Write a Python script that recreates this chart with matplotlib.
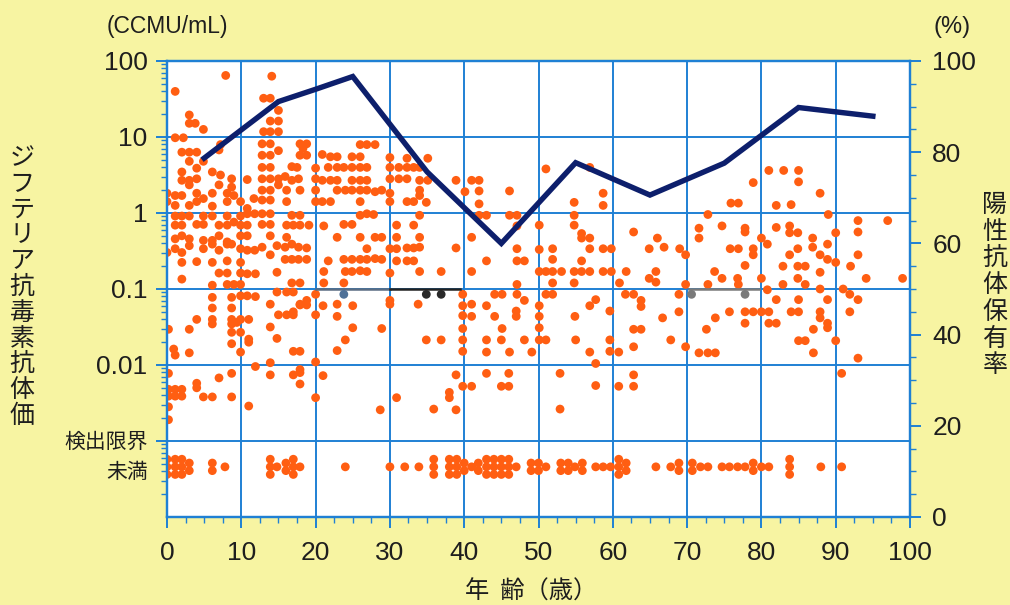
import numpy as np
import matplotlib
matplotlib.use("Agg")
import matplotlib.pyplot as plt
from matplotlib.ticker import LogLocator, MultipleLocator, NullFormatter

plt.rcParams['font.family'] = ['Liberation Sans', 'Noto Sans CJK JP', 'DejaVu Sans']
JP = ['Noto Sans CJK JP', 'DejaVu Sans']

# antibody titer per sample: (age, log10 titer in CCMU/mL)
titer_points = [
    # 0-33 years, upper range
    (7.9, 1.81), (14.1, 1.80), (1.1, 1.60), (13.0, 1.51), (13.9, 1.51), (15.0, 1.35),
    (3.0, 1.29), (3.0, 1.18), (3.8, 1.18), (4.9, 1.10), (13.9, 1.21), (15.0, 1.21),
    (13.0, 1.07), (13.9, 1.07), (15.0, 1.07), (1.1, 0.99), (2.2, 0.99), (7.2, 0.90),
    (7.0, 0.83), (12.8, 0.91), (13.9, 0.91), (17.9, 0.91), (18.8, 0.91), (18.3, 0.85),
    (26.0, 0.90), (26.9, 0.90), (28.0, 0.90),
    (2.0, 0.80), (3.0, 0.80), (4.0, 0.80), (12.8, 0.76), (13.9, 0.76), (15.0, 0.82),
    (17.9, 0.76), (18.8, 0.76), (20.9, 0.77), (22.0, 0.74), (22.9, 0.74), (24.9, 0.74),
    (26.0, 0.74), (30.0, 0.73), (32.3, 0.72), (3.0, 0.68), (4.9, 0.68),
    (4.0, 0.59), (12.8, 0.60), (13.9, 0.60), (16.8, 0.61), (17.5, 0.60), (20.0, 0.59),
    (21.7, 0.60), (22.9, 0.60), (23.8, 0.60), (24.9, 0.60), (26.0, 0.60), (26.9, 0.60),
    (30.0, 0.60), (31.2, 0.60), (32.3, 0.60), (33.2, 0.60),
    (2.0, 0.54), (6.1, 0.54), (7.2, 0.50), (8.7, 0.45),
    (2.0, 0.43), (3.0, 0.43), (4.0, 0.45), (10.8, 0.44), (12.8, 0.45), (13.9, 0.45),
    (15.0, 0.45), (15.9, 0.48), (16.8, 0.43), (17.7, 0.45), (20.0, 0.45), (20.9, 0.43),
    (22.0, 0.43), (22.9, 0.43), (24.9, 0.43), (26.0, 0.43), (26.9, 0.43), (30.0, 0.45),
    (31.2, 0.45), (32.3, 0.45),
    (3.0, 0.37), (7.0, 0.37), (8.7, 0.34), (15.0, 0.37),
    (0.0, 0.26), (1.1, 0.23), (2.0, 0.23), (4.0, 0.26), (6.1, 0.26), (8.1, 0.26),
    (9.0, 0.23), (12.8, 0.30), (13.9, 0.30), (16.1, 0.30), (17.9, 0.30), (20.0, 0.30),
    (22.9, 0.30), (24.0, 0.30), (24.9, 0.30), (26.0, 0.30), (26.9, 0.30), (28.0, 0.28),
    (28.9, 0.30), (30.0, 0.26),
    (0.0, 0.15), (1.1, 0.10), (3.0, 0.10), (4.0, 0.15), (4.9, 0.19), (6.1, 0.09),
    (8.1, 0.15), (9.9, 0.15), (11.7, 0.19), (12.8, 0.17), (13.9, 0.17), (16.1, 0.15),
    (20.0, 0.15), (20.9, 0.15), (22.0, 0.15), (26.0, 0.15), (30.0, 0.15), (32.3, 0.15),
    (33.2, 0.15), (10.8, 0.06),
    (1.1, -0.04), (2.0, -0.04), (3.0, -0.04), (4.9, -0.04), (6.1, -0.04), (8.1, -0.04),
    (9.9, -0.04), (10.8, -0.01), (11.8, -0.01), (12.8, -0.01), (13.9, -0.01), (16.8, -0.03),
    (17.9, -0.03), (26.0, -0.03), (26.9, -0.01), (27.8, -0.02),
    (1.1, -0.16), (2.0, -0.16), (4.0, -0.15), (4.9, -0.15), (7.0, -0.16), (8.1, -0.16),
    (9.0, -0.12), (9.9, -0.16), (10.8, -0.16), (12.8, -0.15), (13.9, -0.15), (16.1, -0.16),
    (17.0, -0.16), (17.9, -0.16), (19.1, -0.16), (21.1, -0.17), (23.8, -0.15), (24.9, -0.15),
    (30.9, -0.16), (33.2, -0.16),
    (1.1, -0.34), (2.0, -0.30), (3.0, -0.34), (4.9, -0.36), (6.1, -0.36), (7.0, -0.30),
    (8.1, -0.38), (9.9, -0.30), (10.8, -0.30), (13.9, -0.30), (16.1, -0.32), (22.9, -0.32),
    (26.0, -0.32), (28.0, -0.32), (28.9, -0.32), (30.9, -0.32),
    (0.0, -0.52), (1.1, -0.47), (2.0, -0.52), (3.0, -0.43), (4.9, -0.47), (6.1, -0.41),
    (7.0, -0.49), (8.1, -0.41), (8.7, -0.41), (9.9, -0.47), (10.8, -0.49), (11.8, -0.49),
    (12.8, -0.45), (13.9, -0.55), (14.8, -0.43), (15.9, -0.45), (16.8, -0.41), (17.7, -0.45),
    (18.8, -0.46), (26.9, -0.47), (30.0, -0.47), (30.9, -0.47), (32.3, -0.46), (33.2, -0.46),
    (2.0, -0.65), (4.0, -0.64), (6.1, -0.65), (8.1, -0.63), (9.9, -0.65), (15.9, -0.61),
    (16.8, -0.61), (17.7, -0.61), (18.8, -0.61), (21.7, -0.63), (23.8, -0.61), (24.9, -0.61),
    (26.0, -0.61), (26.9, -0.61), (28.0, -0.60), (28.9, -0.61), (30.9, -0.63), (32.3, -0.63),
    (33.2, -0.63),
    (7.0, -0.79), (8.1, -0.79), (9.9, -0.79), (10.8, -0.80), (11.9, -0.80), (14.8, -0.78),
    (21.1, -0.77), (24.0, -0.77), (24.9, -0.77), (26.0, -0.76), (26.9, -0.77), (30.0, -0.79),
    (2.0, -0.87), (6.1, -0.95), (8.1, -0.94), (9.0, -0.94), (9.9, -0.94), (16.8, -0.92),
    (17.9, -0.92), (21.1, -0.92), (23.8, -0.92),
    # 0-33 years, lower range
    (9.9, -1.09), (10.8, -1.09), (11.9, -1.10), (14.8, -1.04), (16.1, -1.04), (17.0, -1.04),
    (20.0, -1.07), (6.1, -1.11), (8.7, -1.11), (17.9, -1.20), (18.8, -1.15), (30.0, -1.15),
    (13.9, -1.20), (17.9, -1.21), (18.8, -1.21), (21.0, -1.22), (22.9, -1.20), (25.0, -1.22),
    (30.0, -1.20), (6.1, -1.25), (8.7, -1.25),
    (15.0, -1.34), (16.1, -1.34), (17.0, -1.34), (17.0, -1.30), (20.0, -1.34), (22.9, -1.36),
    (4.0, -1.40), (6.1, -1.40), (6.1, -1.46), (8.7, -1.40), (8.7, -1.46), (9.9, -1.40),
    (11.0, -1.40), (9.4, -1.44), (0.2, -1.53), (3.0, -1.53), (13.9, -1.50), (25.0, -1.51),
    (28.9, -1.52), (8.7, -1.57), (9.9, -1.57), (14.8, -1.65), (11.0, -1.66), (11.0, -1.70),
    (24.0, -1.67), (8.7, -1.72),
    (0.9, -1.79), (1.1, -1.87), (3.0, -1.84), (9.9, -1.83), (17.0, -1.82), (17.9, -1.82),
    (22.9, -1.81), (11.9, -2.02), (13.9, -1.97), (20.0, -1.96),
    (0.2, -2.11), (8.7, -2.11), (13.9, -2.13), (17.0, -2.13), (17.9, -2.10), (17.9, -2.06),
    (21.0, -2.14), (7.0, -2.17), (4.0, -2.24), (17.9, -2.25),
    (0.2, -2.32), (1.1, -2.32), (2.0, -2.32), (4.0, -2.30), (0.2, -2.41), (1.1, -2.41),
    (2.0, -2.41), (4.9, -2.42), (6.1, -2.42), (8.7, -2.42), (20.0, -2.43), (30.9, -2.43),
    (0.2, -2.55), (11.0, -2.54), (28.7, -2.59), (0.2, -2.72),
    # 34-66 years, upper range
    (35.1, 0.72), (34.0, 0.60), (34.0, 0.43), (35.1, 0.43), (38.9, 0.43), (41.0, 0.43),
    (42.0, 0.43), (34.0, 0.30), (34.0, 0.23), (40.1, 0.28), (42.0, 0.29), (46.1, 0.29),
    (34.9, 0.14), (42.0, 0.12), (51.0, 0.58), (56.9, 0.60), (58.7, 0.26), (58.7, 0.10),
    (54.8, 0.14), (34.0, -0.03), (42.0, -0.03), (43.0, -0.03), (46.1, -0.03), (47.1, -0.03),
    (54.8, -0.03), (47.1, -0.17), (50.1, -0.16), (54.8, -0.16), (62.8, -0.25),
    (34.0, -0.32), (41.0, -0.32), (55.8, -0.27), (55.8, -0.33), (56.9, -0.33), (66.0, -0.33),
    (34.0, -0.45), (38.9, -0.46), (47.1, -0.47), (50.1, -0.48), (51.9, -0.47), (56.9, -0.47),
    (58.7, -0.47), (59.8, -0.47), (64.9, -0.47),
    (43.0, -0.63), (47.1, -0.63), (48.1, -0.63), (51.9, -0.61), (55.8, -0.63),
    (34.0, -0.77), (36.9, -0.77), (41.0, -0.77), (50.1, -0.77), (51.0, -0.77), (51.9, -0.77),
    (53.1, -0.77), (54.8, -0.77), (55.8, -0.77), (56.9, -0.77), (58.7, -0.77), (59.8, -0.77),
    (61.8, -0.77), (64.9, -0.86), (65.8, -0.91), (65.8, -0.77),
    (47.1, -0.94), (51.9, -0.92), (54.8, -0.92), (60.9, -0.92),
    # 34-66 years, lower range
    (33.8, -1.20), (39.8, -1.07), (39.8, -1.22), (39.8, -1.35), (39.8, -1.52), (39.8, -1.67),
    (39.8, -1.82), (41.0, -1.20), (41.0, -1.36), (43.0, -1.22), (44.1, -1.36), (44.1, -1.07),
    (45.1, -1.07), (45.1, -1.52), (47.0, -1.29), (47.0, -1.36), (48.1, -1.15), (47.1, -1.07),
    (34.9, -1.67), (36.9, -1.67), (43.0, -1.67), (45.0, -1.67), (48.1, -1.67), (43.0, -1.83),
    (46.1, -1.83), (49.1, -1.83), (50.1, -1.22), (50.1, -1.36), (50.1, -1.51), (50.1, -1.67),
    (51.0, -1.67), (51.0, -1.07), (51.9, -1.07), (54.9, -1.36), (55.0, -1.67), (56.9, -1.83),
    (56.9, -1.22), (57.7, -1.14), (59.6, -1.29), (59.6, -1.67), (59.6, -1.82), (60.8, -1.83),
    (61.7, -1.07), (62.8, -1.07), (63.8, -1.15), (63.8, -1.23), (62.8, -1.53), (63.8, -1.53),
    (62.8, -1.76), (66.7, -1.38),
    (38.9, -2.13), (43.0, -2.11), (46.0, -2.11), (52.9, -2.11), (57.7, -1.98), (62.8, -2.13),
    (39.8, -2.28), (41.0, -2.28), (45.0, -2.28), (46.0, -2.28), (57.7, -2.27), (60.8, -2.28),
    (62.8, -2.28), (38.0, -2.36), (38.0, -2.43), (35.9, -2.58), (38.9, -2.59), (52.9, -2.58),
    # 67-99 years
    (81.0, 0.56), (83.0, 0.56), (85.0, 0.56), (78.9, 0.40), (85.0, 0.41), (87.9, 0.26),
    (75.9, 0.13), (76.9, 0.13), (82.0, 0.10), (84.0, 0.11), (72.8, -0.02), (89.0, -0.02),
    (97.0, -0.10), (93.0, -0.10), (71.6, -0.20), (74.7, -0.17), (77.8, -0.20), (77.8, -0.25),
    (82.0, -0.19), (83.8, -0.17), (83.8, -0.26), (84.9, -0.26), (93.0, -0.25), (90.0, -0.26),
    (86.9, -0.33), (80.0, -0.33), (88.9, -0.41), (80.8, -0.41),
    (66.9, -0.45), (69.0, -0.47), (69.8, -0.55), (71.6, -0.33), (75.8, -0.47), (76.9, -0.47),
    (78.9, -0.47), (78.9, -0.55), (83.8, -0.55), (84.9, -0.47), (86.9, -0.45), (87.9, -0.55),
    (88.9, -0.61), (90.0, -0.65), (93.0, -0.55), (92.0, -0.70),
    (73.7, -0.77), (74.7, -0.86), (76.8, -0.86), (76.9, -0.94), (77.8, -0.69), (80.0, -0.86),
    (82.9, -0.70), (84.9, -0.70), (85.9, -0.70), (87.9, -0.78), (94.1, -0.86), (99.0, -0.86),
    (84.9, -0.86), (69.8, -0.94), (72.8, -0.94), (82.9, -0.94), (85.9, -0.94), (87.9, -1.00),
    (91.0, -1.00), (80.8, -1.01),
    (68.9, -1.07), (68.9, -1.30), (67.8, -1.67), (69.8, -1.76), (71.6, -1.84), (72.8, -1.84),
    (73.8, -1.84), (72.6, -1.53), (73.8, -1.38), (75.7, -1.30), (77.8, -1.30), (77.8, -1.45),
    (78.9, -1.30), (80.0, -1.30), (81.0, -1.30), (81.0, -1.45), (82.0, -1.45), (82.0, -1.14),
    (84.0, -1.30), (85.0, -1.30), (85.0, -1.14), (85.0, -1.68), (85.9, -1.68), (87.0, -1.53),
    (87.0, -1.84), (87.9, -1.30), (87.9, -1.38), (88.9, -1.14), (88.9, -1.45), (88.9, -1.51),
    (90.0, -1.68), (91.9, -1.07), (91.9, -1.30), (93.0, -1.14), (93.0, -1.91), (90.8, -2.11),
]

# ages of samples below the detection limit (one entry per sample)
undetected_ages = [
    0.0, 0.0, 0.0, 1.1, 1.1, 1.1, 2.0, 2.0, 2.0, 3.0, 3.0, 6.1, 6.1, 7.8,
    13.9, 13.9, 13.9, 14.8, 16.0, 16.0, 17.0, 17.0, 17.0, 17.9, 24.0, 30.0, 32.0,
    33.9, 35.9, 35.9, 35.9, 38.0, 38.0, 38.0, 39.0, 39.0, 39.0, 40.0, 40.0, 41.0,
    41.9, 41.9, 43.0, 43.0, 43.0, 44.0, 44.0, 44.0, 45.0, 45.0, 45.0, 46.0, 46.0, 46.0,
    47.0, 49.0, 49.0, 50.0, 50.0, 51.0, 53.0, 53.0, 54.0, 54.0, 54.9, 55.9, 55.9,
    57.7, 58.7, 59.7, 60.8, 60.8, 60.8, 61.8, 61.8, 65.8,
    67.8, 68.9, 68.9, 70.7, 70.7, 71.8, 72.8, 74.7, 75.7, 76.8, 77.8, 78.9, 78.9,
    80.0, 81.0, 83.8, 83.8, 83.8, 88.0, 90.8,
]

# highlighted samples just under 0.1 CCMU/mL
marked_ages = [23.8, 34.9, 36.9, 70.6, 77.8]
marked_log = [-1.07, -1.07, -1.07, -1.07, -1.07]
marked_colors = ['#4f7198', '#2a2a2a', '#2a2a2a', '#7a7a7a', '#7a7a7a']

# reference bars at 0.1 CCMU/mL
ref_segments = [(20.0, 30.0, '#5a6c82'), (30.0, 39.5, '#222222'), (70.3, 79.7, '#7a7a7a')]

# seropositive rate by age group (%)
rate_ages = [5, 15, 20, 25, 35, 45, 55, 65, 75, 85, 95]
rate_pct = [78.7, 91.1, 93.8, 96.6, 75.7, 60.0, 77.7, 70.6, 77.6, 89.8, 87.9]

detect_floor_log = -3.34

BG = '#f7f4a2'
GRID = '#1f80d4'
DOT = '#ff5e12'
NAVY = '#0d1f6c'
TXT = '#1e1e1e'

fig = plt.figure(figsize=(10.1, 6.05), dpi=100, facecolor=BG)
ax = fig.add_axes([167 / 1010, 1 - 517 / 605, 743 / 1010, 456 / 605])
ax.set_facecolor('white')
ax.set_yscale('log')
ax.set_xlim(0, 100)
ax.set_ylim(1e-4, 100)
ax.set_axisbelow(True)

ax.set_xticks(np.arange(0, 101, 10))
ax.xaxis.set_minor_locator(MultipleLocator(2.5))
ax.set_yticks([1e-3, 1e-2, 1e-1, 1, 10, 100])
ax.set_yticklabels(['', '0.01', '0.1', '1', '10', '100'])
ax.yaxis.set_minor_locator(LogLocator(base=10, subs=np.arange(2, 10), numticks=20))
ax.yaxis.set_minor_formatter(NullFormatter())
ax.grid(True, which='major', color=GRID, lw=1.4)
ax.tick_params(which='major', color=GRID, length=8, width=1.4, labelsize=19,
               labelcolor=TXT)
ax.tick_params(axis='y', which='major', pad=6)
ax.tick_params(axis='x', which='major', pad=9)
ax.tick_params(which='minor', color=GRID, length=4, width=1.0)
for sp in ax.spines.values():
    sp.set_color(GRID)
    sp.set_linewidth(1.6)

# detected titers
pt_age = np.array([p[0] for p in titer_points])
pt_val = 10 ** np.array([p[1] for p in titer_points])
ax.scatter(pt_age, pt_val, s=40, color=DOT, edgecolors='none', zorder=3)

# samples below detection limit, stacked where ages repeat
und = np.array(undetected_ages)
und_y = []
for i, a in enumerate(und):
    same = np.where(und == a)[0]
    k = list(same).index(i)
    und_y.append(detect_floor_log + 0.1 * ((len(same) - 1) / 2 - k))
ax.scatter(und, 10 ** np.array(und_y), s=40, color=DOT, edgecolors='none', zorder=3)

for x0, x1, c in ref_segments:
    ax.plot([x0, x1], [0.1, 0.1], color=c, lw=1.8, zorder=4)
ax.scatter(marked_ages, 10 ** np.array(marked_log), s=40, color=marked_colors,
           edgecolors='none', zorder=5)

# seropositive rate on right axis
ax2 = ax.twinx()
ax2.set_ylim(0, 100)
ax2.set_yticks(np.arange(0, 101, 20))
ax2.yaxis.set_minor_locator(MultipleLocator(5))
ax2.tick_params(which='major', color=GRID, length=8, width=1.4, labelsize=19,
                labelcolor=TXT, pad=8)
ax2.tick_params(which='minor', color=GRID, length=4, width=1.0)
for sp in ax2.spines.values():
    sp.set_color(GRID)
    sp.set_linewidth(1.6)
ax2.plot(rate_ages, rate_pct, color=NAVY, lw=3.9, solid_joinstyle='miter', zorder=6)

# titles and axis captions
fig.text(167 / 1010, 1 - 26 / 605, '(CCMU/mL)', ha='center', va='center',
         fontsize=16.5, color=TXT)
fig.text(952 / 1010, 1 - 27 / 605, '(%)', ha='center', va='center', fontsize=17, color=TXT)
fig.text(148 / 1010, 1 - 442 / 605, '検出限界', ha='right', va='center', fontsize=15,
         color=TXT, family=JP)
fig.text(148 / 1010, 1 - 472 / 605, '未満', ha='right', va='center', fontsize=15,
         color=TXT, family=JP)

for i, ch in enumerate('ジフテリア抗毒素抗体価'):
    fig.text(22 / 1010, 1 - (158 + i * 25.8) / 605, ch, ha='center', va='center',
             fontsize=18, color=TXT, family=JP)
for i, ch in enumerate('陽性抗体保有率'):
    fig.text(995 / 1010, 1 - (205 + i * 26.7) / 605, ch, ha='center', va='center',
             fontsize=18, color=TXT, family=JP)
fig.text(531 / 1010, 1 - 592 / 605, '年  齢（歳）', ha='center', va='center',
         fontsize=17.5, color=TXT, family=JP)

fig.savefig('out.png', dpi=100, facecolor=BG)
